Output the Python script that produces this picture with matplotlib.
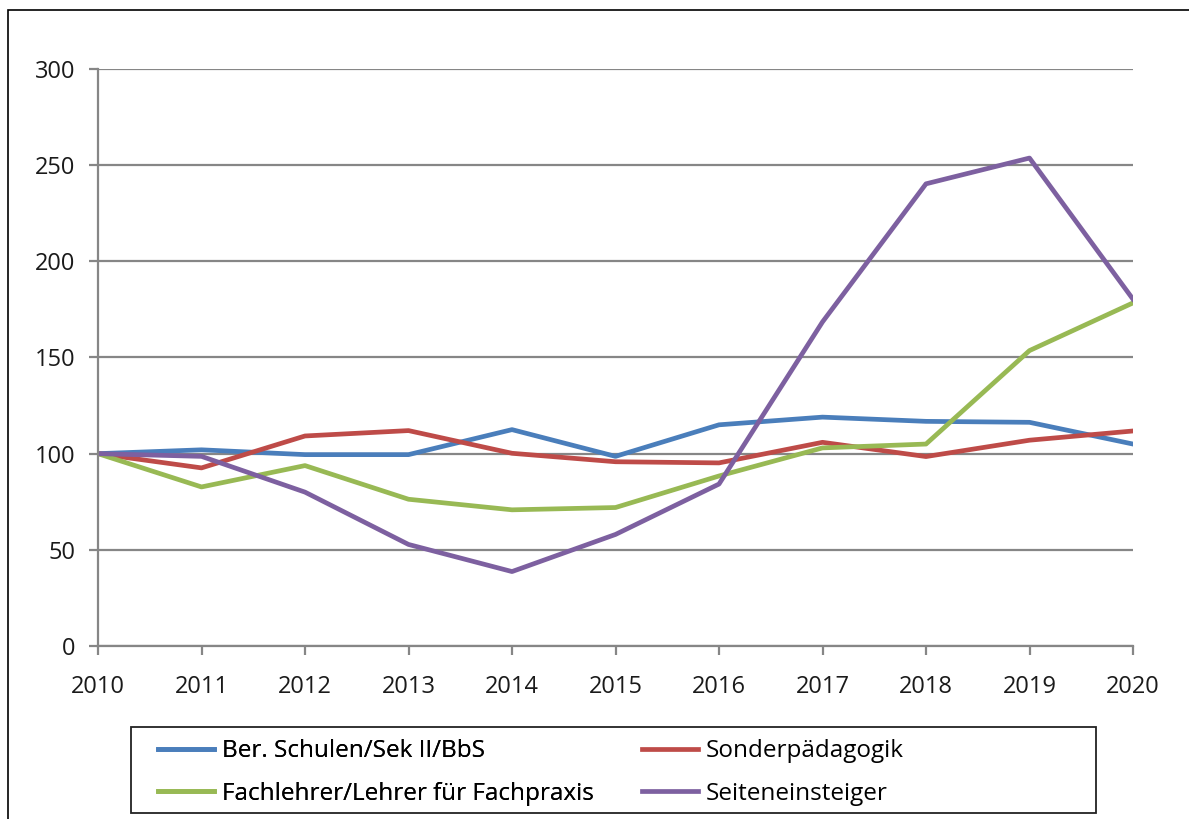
import matplotlib.pyplot as plt
from matplotlib.patches import Rectangle

plt.rcParams['font.family'] = ['Open Sans', 'DejaVu Sans']

years = [2010, 2011, 2012, 2013, 2014, 2015, 2016, 2017, 2018, 2019, 2020]
ber_schulen = [100, 102, 99.5, 99.5, 112.5, 98.6, 115, 119, 116.8, 116.3, 105]
sonderpaed = [100, 92.6, 109.2, 112, 100.2, 95.8, 95.2, 105.9, 98.5, 107, 111.8]
fachlehrer = [100, 82.7, 93.8, 76.3, 70.8, 72, 88.4, 103, 105, 153.6, 178.4]
seiteneinst = [100, 98.6, 80, 52.8, 38.7, 58, 84.2, 168.5, 240.3, 253.7, 180.3]

labels = ["Ber. Schulen/Sek II/BbS", "Sonderpädagogik",
          "Fachlehrer/Lehrer für Fachpraxis", "Seiteneinsteiger"]
colors = ["#4A7EBB", "#BE4B48", "#98B954", "#7D60A0"]

W, H = 1189, 819
fig = plt.figure(figsize=(W / 100, H / 100), dpi=100)
ax = fig.add_axes([98 / W, 1 - 646 / H, 1035 / W, 577 / H])

lines = []
for vals, lab, col in zip([ber_schulen, sonderpaed, fachlehrer, seiteneinst], labels, colors):
    l, = ax.plot(years, vals, color=col, lw=3.4, label=lab)
    lines.append(l)

ax.set_xlim(2010, 2020)
ax.set_ylim(0, 300)
ax.set_xticks(years)
ax.set_yticks(range(0, 301, 50))
ax.yaxis.grid(True, color="#868686", lw=1.6)
ax.set_axisbelow(True)
for s in ["top", "right"]:
    ax.spines[s].set_visible(False)
for s in ["left", "bottom"]:
    ax.spines[s].set_color("#868686")
    ax.spines[s].set_linewidth(1.6)
ax.tick_params(axis='both', colors="#868686", width=1.6, length=6.5, labelsize=17,
               labelcolor="#1a1a1a")
ax.tick_params(axis='y', pad=10)
ax.tick_params(axis='x', pad=14.5)

# legend: frame drawn separately, two columns
fig.patches.append(Rectangle((131 / W, 1 - 813 / H), 965 / W, 86 / H,
                             transform=fig.transFigure, fill=False,
                             edgecolor='#222222', lw=1.3))
fs = 17.5
leg1 = fig.legend([lines[0], lines[2]], [labels[0], labels[2]],
                  loc='upper left', bbox_to_anchor=(139 / W, 1 - 720 / H),
                  fontsize=fs, frameon=False, handlelength=2.3, handletextpad=0.3,
                  borderpad=0.3, labelspacing=0.75)
leg2 = fig.legend([lines[1], lines[3]], [labels[1], labels[3]],
                  loc='upper left', bbox_to_anchor=(623 / W, 1 - 720 / H),
                  fontsize=fs, frameon=False, handlelength=2.3, handletextpad=0.3,
                  borderpad=0.3, labelspacing=0.75)
fig.add_artist(leg1)

# outer border of the picture
fig.patches.append(Rectangle((8 / W, -0.05), 1.2, 1 - 10 / H + 0.05,
                             transform=fig.transFigure, fill=False,
                             edgecolor='black', lw=1.2))

fig.savefig("out.png", dpi=100)
